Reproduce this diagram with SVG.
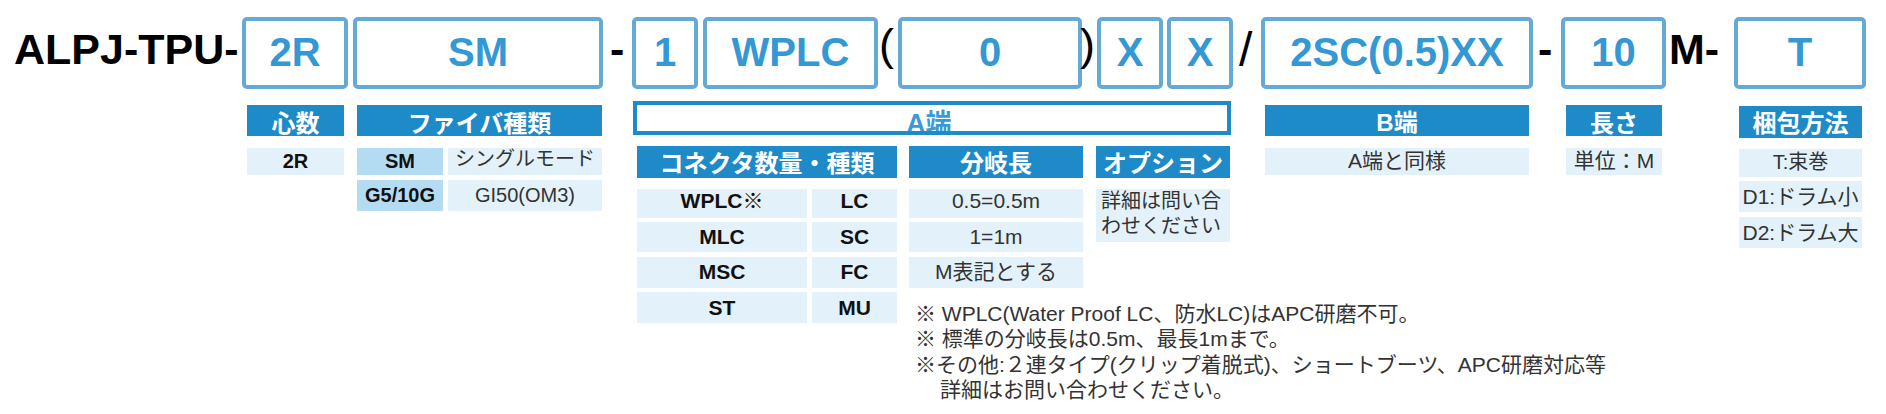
<svg xmlns="http://www.w3.org/2000/svg" width="1886" height="414" viewBox="0 0 1886 414">
<style>
text{font-family:"Liberation Sans","Noto Sans CJK JP",sans-serif}
.code{fill:none;stroke:#65AAD4;stroke-width:4}
.ct{font-size:40px;font-weight:bold;fill:#3398D4;text-anchor:middle}
.blk{font-size:43px;font-weight:bold;fill:#000}
.par{font-size:45px;font-weight:normal;fill:#000}
.hd{fill:#1F8AC8}
.ht{font-size:24px;font-weight:bold;fill:#fff;text-anchor:middle}
.c1{fill:#E3F1FA}
.c2{fill:#B3DCF2}
.bs{font-size:20px;font-weight:bold;fill:#111;text-anchor:middle}
.bt{font-size:21px;font-weight:bold;fill:#111;text-anchor:middle}
.rt{font-size:20px;fill:#333;text-anchor:middle}
.rl{font-size:21px;fill:#333;text-anchor:middle}
.nt{font-size:21px;fill:#333}
</style>
<rect width="1886" height="414" fill="#fff"/>
<g id="connectors"/>
<g id="code-row">
  <g id="title"><text class="blk" x="14" y="64">ALPJ-TPU-</text></g>
  <g id="box-2r"><rect class="code" x="244" y="19" width="102" height="68" rx="3"/><text class="ct" x="295" y="66">2R</text></g>
  <g id="box-sm"><rect class="code" x="355" y="19" width="246" height="68" rx="3"/><text class="ct" x="478" y="66">SM</text></g>
  <g id="sep-1"><text class="blk" x="610" y="64">-</text></g>
  <g id="box-1"><rect class="code" x="634" y="19" width="62" height="68" rx="3"/><text class="ct" x="665" y="66">1</text></g>
  <g id="box-wplc"><rect class="code" x="705" y="19" width="171" height="68" rx="3"/><text class="ct" x="790.5" y="66">WPLC</text></g>
  <g id="paren-open"><text class="par" x="879" y="60">(</text></g>
  <g id="box-0"><rect class="code" x="900" y="19" width="180" height="68" rx="3"/><text class="ct" x="990" y="66">0</text></g>
  <g id="paren-close"><text class="par" x="1080" y="60">)</text></g>
  <g id="box-x1"><rect class="code" x="1099" y="19" width="62" height="68" rx="3"/><text class="ct" x="1130" y="66">X</text></g>
  <g id="box-x2"><rect class="code" x="1169" y="19" width="62" height="68" rx="3"/><text class="ct" x="1200" y="66">X</text></g>
  <g id="slash"><text class="par" x="1239" y="66" style="font-size:48px">/</text></g>
  <g id="box-2sc"><rect class="code" x="1263" y="19" width="268" height="68" rx="3"/><text class="ct" x="1397" y="66">2SC(0.5)XX</text></g>
  <g id="sep-2"><text class="blk" x="1538" y="64">-</text></g>
  <g id="box-10"><rect class="code" x="1563" y="19" width="101" height="68" rx="3"/><text class="ct" x="1613.5" y="66">10</text></g>
  <g id="unit-m"><text class="blk" x="1669" y="64">M-</text></g>
  <g id="box-t"><rect class="code" x="1736" y="19" width="128" height="68" rx="3"/><text class="ct" x="1800" y="66">T</text></g>
</g>
<g id="core-count">
  <rect class="hd" x="247" y="105" width="97" height="31"/><text class="ht" x="295.5" y="131.5">心数</text>
  <rect class="c1" x="247" y="148" width="97" height="27"/><text class="bs" x="295.5" y="168">2R</text>
</g>
<g id="fiber-type">
  <rect class="hd" x="357" y="105" width="245" height="31"/><text class="ht" x="479.5" y="131.5">ファイバ種類</text>
  <rect class="c2" x="357" y="148" width="86" height="27"/><text class="bs" x="400" y="168">SM</text>
  <rect class="c1" x="448" y="148" width="154" height="27"/><text class="rt" x="525" y="166">シングルモード</text>
  <rect class="c2" x="357" y="180" width="86" height="31"/><text class="bs" x="400" y="202">G5/10G</text>
  <rect class="c1" x="448" y="180" width="154" height="31"/><text class="rt" x="525" y="202">GI50(OM3)</text>
</g>
<g id="a-end">
  <text x="929" y="132" text-anchor="middle" style="font-size:26px;font-weight:bold;fill:#3A9AD6">A端</text>
  <rect x="635" y="103" width="594" height="30" fill="none" stroke="#1F8AC8" stroke-width="4"/>
</g>
<g id="connector-type">
  <rect class="hd" x="637" y="146" width="260" height="32"/><text class="ht" x="767" y="171.5">コネクタ数量・種類</text>
  <rect class="c1" x="637" y="189" width="170" height="29"/><text class="bt" x="722" y="208">WPLC※</text>
  <rect class="c1" x="812" y="189" width="85" height="29"/><text class="bt" x="854.5" y="208">LC</text>
  <rect class="c1" x="637" y="222" width="170" height="30"/><text class="bt" x="722" y="244">MLC</text>
  <rect class="c1" x="812" y="222" width="85" height="30"/><text class="bt" x="854.5" y="244">SC</text>
  <rect class="c1" x="637" y="257" width="170" height="31"/><text class="bt" x="722" y="279">MSC</text>
  <rect class="c1" x="812" y="257" width="85" height="31"/><text class="bt" x="854.5" y="279">FC</text>
  <rect class="c1" x="637" y="292" width="170" height="31"/><text class="bt" x="722" y="315">ST</text>
  <rect class="c1" x="812" y="292" width="85" height="31"/><text class="bt" x="854.5" y="315">MU</text>
</g>
<g id="branch-length">
  <rect class="hd" x="909" y="146" width="174" height="32"/><text class="ht" x="996" y="171.5">分岐長</text>
  <rect class="c1" x="909" y="189" width="174" height="29"/><text class="rl" x="996" y="208">0.5=0.5m</text>
  <rect class="c1" x="909" y="222" width="174" height="30"/><text class="rl" x="996" y="244">1=1m</text>
  <rect class="c1" x="909" y="257" width="174" height="31"/><text class="rl" x="996" y="279">M表記とする</text>
</g>
<g id="option">
  <rect class="hd" x="1096" y="146" width="134" height="32"/><text class="ht" x="1163" y="171.5">オプション</text>
  <rect class="c1" x="1096" y="189" width="134" height="53"/>
  <text class="rt" x="1101" y="207.5" style="text-anchor:start">詳細は問い合</text>
  <text class="rt" x="1101" y="233" style="text-anchor:start">わせください</text>
</g>
<g id="b-end">
  <rect class="hd" x="1265" y="105" width="264" height="31"/><text class="ht" x="1397" y="130.5">B端</text>
  <rect class="c1" x="1265" y="148" width="264" height="27"/><text class="rl" x="1397" y="168">A端と同様</text>
</g>
<g id="length">
  <rect class="hd" x="1566" y="105" width="96" height="31"/><text class="ht" x="1614" y="131.5">長さ</text>
  <rect class="c1" x="1566" y="148" width="96" height="27"/><text class="rl" x="1614" y="168">単位：M</text>
</g>
<g id="packing">
  <rect class="hd" x="1739" y="106" width="123" height="32"/><text class="ht" x="1800.5" y="131.5">梱包方法</text>
  <rect class="c1" x="1739" y="149" width="123" height="28"/><text class="rt" x="1800.5" y="169">T:束巻</text>
  <rect class="c1" x="1739" y="181" width="123" height="31"/><text class="rl" x="1800.5" y="203.5">D1:ドラム小</text>
  <rect class="c1" x="1739" y="217" width="123" height="31"/><text class="rl" x="1800.5" y="240">D2:ドラム大</text>
</g>
<g id="notes">
  <text class="nt" x="915" y="321">※ WPLC(Water Proof LC、防水LC)はAPC研磨不可。</text>
  <text class="nt" x="915" y="346">※ 標準の分岐長は0.5m、最長1mまで。</text>
  <text class="nt" x="915" y="372">※その他:２連タイプ(クリップ着脱式)、ショートブーツ、APC研磨対応等</text>
  <text class="nt" x="940" y="397">詳細はお問い合わせください。</text>
</g>
</svg>
